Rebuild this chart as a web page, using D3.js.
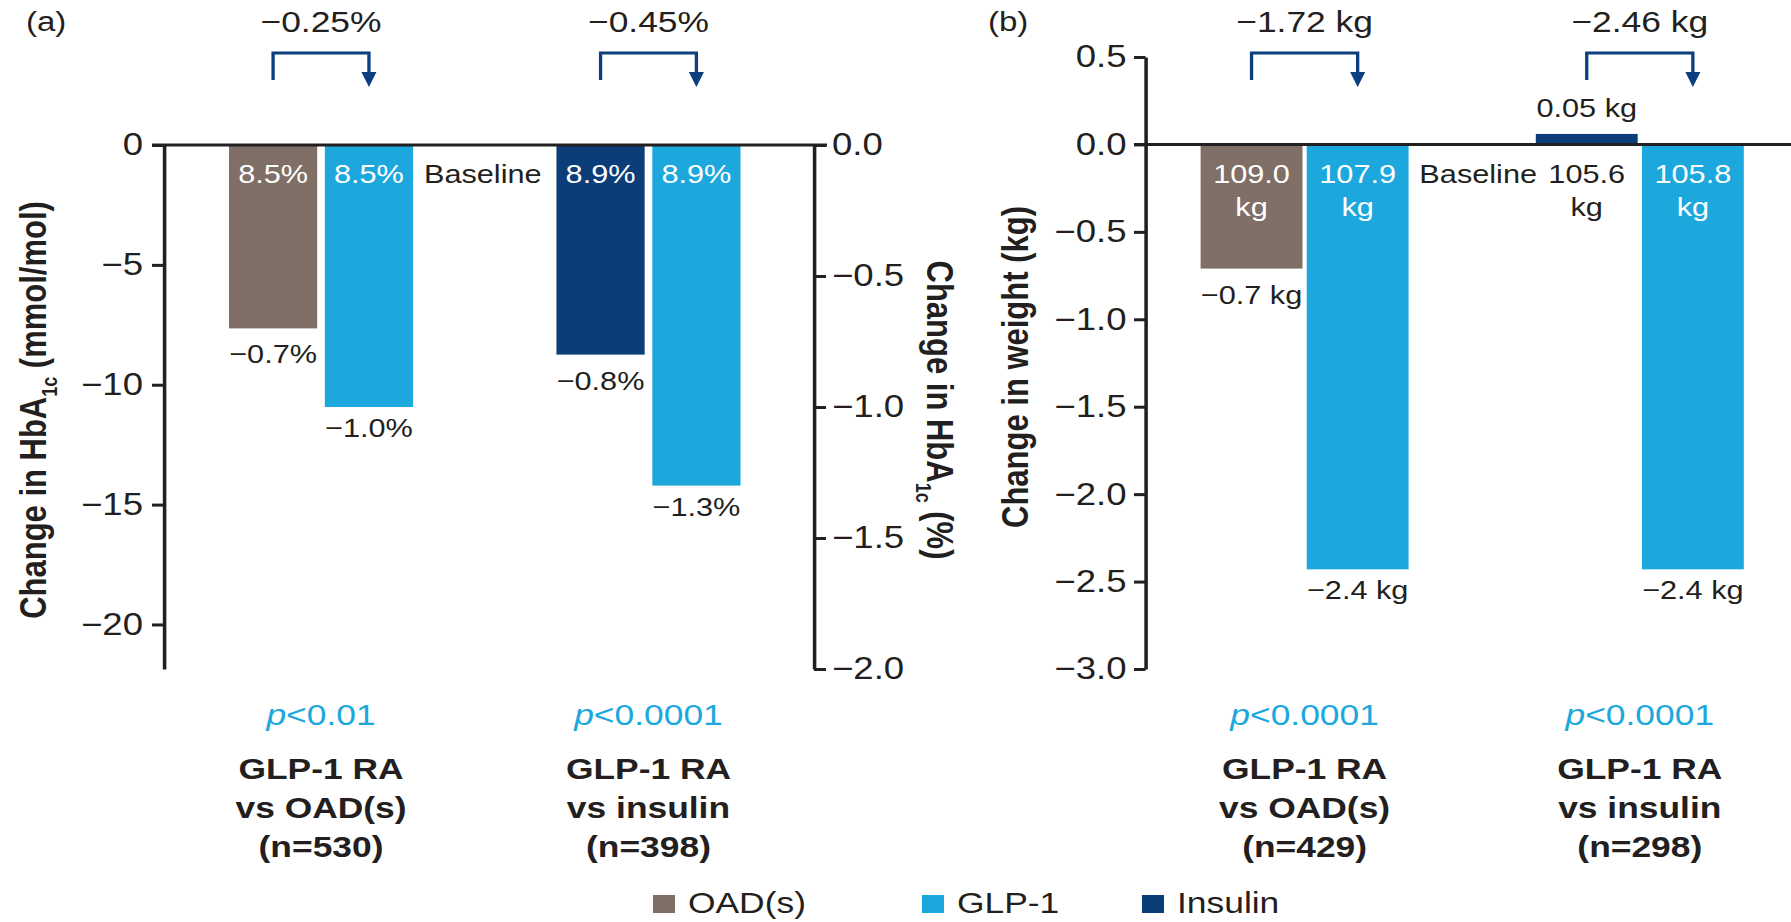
<!DOCTYPE html>
<html>
<head>
<meta charset="utf-8">
<script src="https://cdn.jsdelivr.net/npm/d3@7"></script>
<style>
  html, body { margin: 0; padding: 0; background: #fff; }
  svg { display: block; }
  text { font-family: "Liberation Sans", Arial, sans-serif; fill: #231f20; }
</style>
</head>
<body>
<svg id="chart" width="1791" height="922"></svg>
<script>
// ---------------- DATA ----------------
const comparisons = ["vs OAD(s)", "vs insulin"];
const comparators = ["OAD(s)", "Insulin"];

// Panel (a): HbA1c
const hba1cNs = [530, 398];
const hba1cComparatorChange = [-0.70, -0.80];   // %
const hba1cGlp1Change = [-1.00, -1.30];         // %
const hba1cComparatorBaseline = ["8.5%", "8.9%"];
const hba1cGlp1Baseline = ["8.5%", "8.9%"];
const hba1cComparatorLabel = ["−0.7%", "−0.8%"];
const hba1cGlp1Label = ["−1.0%", "−1.3%"];
const hba1cDifference = ["−0.25%", "−0.45%"];
const hba1cPValues = ["<0.01", "<0.0001"];
const hba1cMmolTicks = [0, -5, -10, -15, -20];
const hba1cPctTicks = [0, -0.5, -1.0, -1.5, -2.0];

// Panel (b): weight
const weightNs = [429, 298];
const weightComparatorChange = [-0.71, 0.06];   // kg
const weightGlp1Change = [-2.43, -2.43];        // kg
const weightComparatorBaseline = ["109.0", "105.6"];
const weightGlp1Baseline = ["107.9", "105.8"];
const weightComparatorLabel = ["−0.7 kg", "0.05 kg"];
const weightGlp1Label = ["−2.4 kg", "−2.4 kg"];
const weightDifference = ["−1.72 kg", "−2.46 kg"];
const weightPValues = ["<0.0001", "<0.0001"];
const weightTicks = [0.5, 0, -0.5, -1.0, -1.5, -2.0, -2.5, -3.0];

const legendLabels = ["OAD(s)", "GLP-1", "Insulin"];
const seriesColors = ["#806f66", "#1ca8dd", "#0b3d78"];

// ---------------- LAYOUT ----------------
const SX = 1.18;                 // horizontal stretch of the original figure
const X = v => v / SX;           // screen px -> inner coords
const DARK = "#231f20";
const ARROW = "#0b3f7e";
const PBLUE = "#1ca8dd";
const color = d3.scaleOrdinal().domain(legendLabels).range(seriesColors);
const MMOL_PER_PCT = 10.929;

const svg = d3.select("#chart");
svg.append("rect").attr("width", 1791).attr("height", 922).attr("fill", "#fff");
const root = svg.append("g").attr("transform", `scale(${SX},1)`);

function rows(compVals, glpVals, compBase, glpBase, compLab, glpLab) {
  return comparators.map((c, i) => ({
    i,
    bars: [
      { kind: "comp", series: c, value: compVals[i], base: compBase[i], label: compLab[i] },
      { kind: "glp", series: "GLP-1", value: glpVals[i], base: glpBase[i], label: glpLab[i] }
    ]
  }));
}

function styleAxis(g, size) {
  g.attr("font-family", "'Liberation Sans', Arial, sans-serif");
  g.select(".domain").attr("stroke", DARK).attr("stroke-width", 3);
  g.selectAll(".tick line").attr("stroke", DARK).attr("stroke-width", 3);
  g.selectAll(".tick text").attr("font-size", size).attr("fill", DARK);
}

function drawPanel(p) {
  const g = root.append("g");
  const data = rows(p.compVals, p.glpVals, p.compBase, p.glpBase, p.compLab, p.glpLab);
  const y = p.y;
  const x0 = d3.scaleBand().domain([0, 1]).range([X(p.bandStart), X(p.bandEnd)])
    .paddingInner(p.padInner).paddingOuter(0);
  const x1 = d3.scaleBand().domain(["comp", "glp"]).range([0, x0.bandwidth()]).paddingInner(p.padBars);
  const cx = (i, k) => x0(i) + x1(k) + x1.bandwidth() / 2;

  // bars
  const grp = g.selectAll("g.grp").data(data).join("g").attr("class", "grp")
    .attr("transform", d => `translate(${x0(d.i)},0)`);
  grp.selectAll("rect").data(d => d.bars).join("rect")
    .attr("x", d => x1(d.kind))
    .attr("width", x1.bandwidth())
    .attr("y", d => y(Math.max(0, d.value)))
    .attr("height", d => Math.abs(y(d.value) - y(0)))
    .attr("fill", d => color(d.series));

  // baseline values
  data.forEach(d => d.bars.forEach(b => {
    g.append("text").attr("x", cx(d.i, b.kind)).attr("y", 183)
      .attr("text-anchor", "middle").attr("font-size", 26)
      .style("fill", b.value < 0 ? "#ffffff" : DARK)
      .text(b.base);
    if (p.unit) {
      g.append("text").attr("x", cx(d.i, b.kind)).attr("y", 216)
        .attr("text-anchor", "middle").attr("font-size", 26)
        .style("fill", b.value < 0 ? "#ffffff" : DARK)
        .text(p.unit);
    }
    // change labels
    const yl = b.value < 0 ? y(b.value) + (b.kind === "comp" ? 35 : 30) : y(b.value) - 17;
    g.append("text").attr("x", cx(d.i, b.kind)).attr("y", yl)
      .attr("text-anchor", "middle").attr("font-size", 26).text(b.label);
  }));

  // "Baseline"
  const gapMid = (x0(0) + x0.bandwidth() + x0(1)) / 2;
  g.append("text").attr("x", gapMid + X(p.baselineShift)).attr("y", 183)
    .attr("text-anchor", "middle").attr("font-size", 26).text("Baseline");

  // differences + brackets
  data.forEach(d => {
    const gc = x0(d.i) + x0.bandwidth() / 2;
    g.append("text").attr("x", gc).attr("y", 32).attr("text-anchor", "middle")
      .attr("font-size", 30).text(p.diff[d.i]);
    const a = cx(d.i, "comp"), b = cx(d.i, "glp");
    g.append("path").attr("d", `M${a},80V53H${b}V76`)
      .attr("fill", "none").attr("stroke", ARROW).attr("stroke-width", 2.8);
    g.append("path").attr("d", `M${b - X(7.5)},72L${b + X(7.5)},72L${b},87Z`).attr("fill", ARROW);

    // p value
    const pt = g.append("text").attr("x", gc).attr("y", 725).attr("text-anchor", "middle")
      .attr("font-size", 30).style("fill", PBLUE);
    pt.append("tspan").attr("font-style", "italic").text("p");
    pt.append("tspan").text(p.pvals[d.i]);

    // category labels
    const lines = ["GLP-1 RA", comparisons[d.i], `(n=${p.ns[d.i]})`];
    lines.forEach((s, k) => {
      g.append("text").attr("x", gc).attr("y", 779 + k * 39).attr("text-anchor", "middle")
        .attr("font-size", 30).attr("font-weight", "bold").text(s);
    });
  });

  // zero line
  g.append("line").attr("x1", X(p.zeroFrom)).attr("x2", X(p.zeroTo))
    .attr("y1", y(0)).attr("y2", y(0)).attr("stroke", DARK).attr("stroke-width", 3);
  return g;
}

// ---------------- PANEL A ----------------
const yA = d3.scaleLinear().domain([-2, 0]).range([669, 145]);
const yAmmol = d3.scaleLinear().domain([-2 * MMOL_PER_PCT, 0]).range([669, 145]);
drawPanel({
  y: yA, bandStart: 229, bandEnd: 740.5, padInner: 0.438, padBars: 0.08,
  compVals: hba1cComparatorChange, glpVals: hba1cGlp1Change,
  compBase: hba1cComparatorBaseline, glpBase: hba1cGlp1Baseline,
  compLab: hba1cComparatorLabel, glpLab: hba1cGlp1Label,
  diff: hba1cDifference, pvals: hba1cPValues, ns: hba1cNs,
  unit: null, baselineShift: -2, zeroFrom: 152, zeroTo: 827
});
const axL = root.append("g").attr("transform", `translate(${X(164)},0)`)
  .call(d3.axisLeft(yAmmol).tickValues(hba1cMmolTicks).tickFormat(d3.format("d"))
    .tickSize(X(12)).tickSizeOuter(0).tickPadding(X(9)));
styleAxis(axL, 31);
const axR = root.append("g").attr("transform", `translate(${X(814)},0)`)
  .call(d3.axisRight(yA).tickValues(hba1cPctTicks).tickFormat(d3.format(".1f"))
    .tickSize(X(12)).tickSizeOuter(0).tickPadding(X(6)));
styleAxis(axR, 31);

root.append("text").attr("x", X(26)).attr("y", 31).attr("font-size", 28).text("(a)");

function hbTitle(x, y, rot, unitText) {
  const t = root.append("text").attr("transform", `translate(${x},${y}) rotate(${rot})`)
    .attr("text-anchor", "middle").attr("font-size", 31).attr("font-weight", "bold");
  t.append("tspan").text("Change in HbA");
  t.append("tspan").attr("font-size", 18).attr("dy", 9).text("1c");
  t.append("tspan").attr("dy", -9).text(" " + unitText);
}
hbTitle(X(46), 410, -90, "(mmol/mol)");
hbTitle(X(927), 410, 90, "(%)");

// ---------------- PANEL B ----------------
const yB = d3.scaleLinear().domain([-3, 0.5]).range([669, 57]);
drawPanel({
  y: yB, bandStart: 1200.6, bandEnd: 1743.8, padInner: 0.3795, padBars: 0.04,
  compVals: weightComparatorChange, glpVals: weightGlp1Change,
  compBase: weightComparatorBaseline, glpBase: weightGlp1Baseline,
  compLab: weightComparatorLabel, glpLab: weightGlp1Label,
  diff: weightDifference, pvals: weightPValues, ns: weightNs,
  unit: "kg", baselineShift: 6, zeroFrom: 1134, zeroTo: 1791
});
const axB = root.append("g").attr("transform", `translate(${X(1145.5)},0)`)
  .call(d3.axisLeft(yB).tickValues(weightTicks).tickFormat(d3.format(".1f"))
    .tickSize(X(11.5)).tickSizeOuter(0).tickPadding(X(7.5)));
styleAxis(axB, 31);

root.append("text").attr("x", X(988)).attr("y", 31).attr("font-size", 28).text("(b)");
root.append("text").attr("transform", `translate(${X(1028)},367) rotate(-90)`)
  .attr("text-anchor", "middle").attr("font-size", 31).attr("font-weight", "bold")
  .text("Change in weight (kg)");

// ---------------- LEGEND ----------------
const legendX = [653, 922, 1142];
const lg = root.append("g").selectAll("g").data(legendLabels).join("g")
  .attr("transform", (d, i) => `translate(${X(legendX[i])},895)`);
lg.append("rect").attr("width", X(22)).attr("height", 18).attr("fill", d => color(d));
lg.append("text").attr("x", X(35)).attr("y", 18).attr("font-size", 30).text(d => d);
</script>
</body>
</html>
